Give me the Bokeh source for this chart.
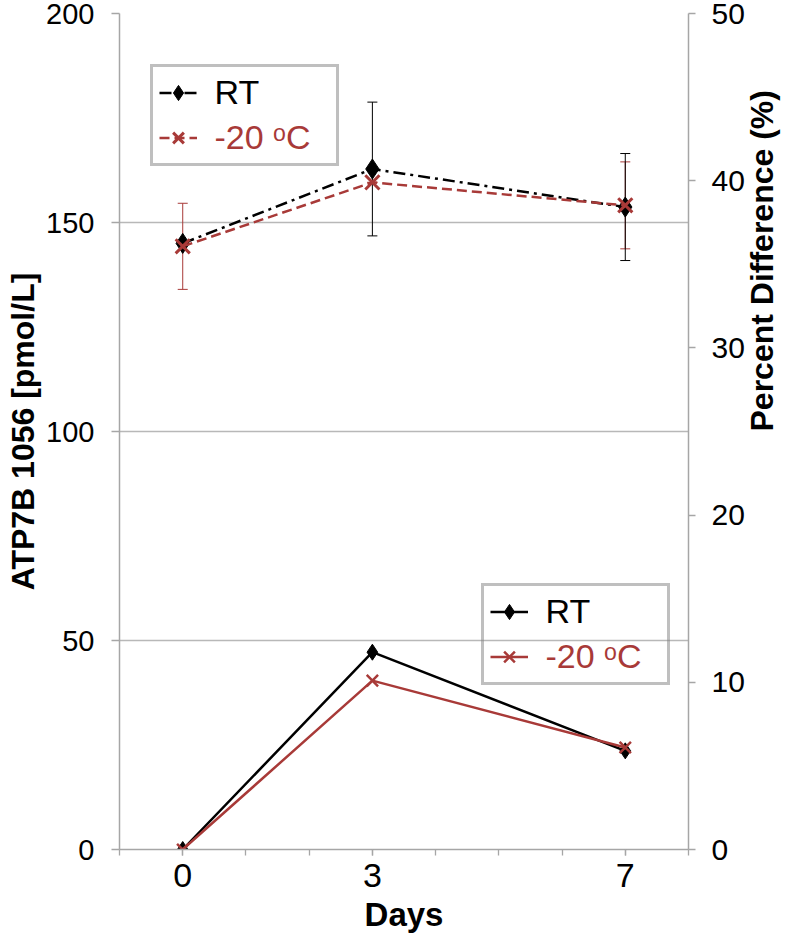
import math
from bokeh.plotting import figure
from bokeh.models import (ColumnDataSource, Range1d, LinearAxis, FixedTicker, Whisker,
                          TeeHead, Legend, LegendItem, Label)
from bokeh.embed import file_html
from bokeh.resources import INLINE

# ---------------- data ----------------
days = [0, 3, 7]
day_ticks = [-1, 0, 1, 2, 3, 4, 5, 6, 7, 8]
rt_conc = [145.0, 162.8, 153.7]
rt_err = [0.0, 16.0, 12.8]
m20_conc = [144.3, 159.6, 154.1]
m20_err = [10.3, 0.0, 10.4]
rt_pct = [0.0, 11.8, 5.9]
m20_pct = [0.0, 10.1, 6.1]
conc_ticks = [0, 50, 100, 150, 200]
pct_ticks = [0, 10, 20, 30, 40, 50]
series_labels = ["RT", "-20 \u1d52C"]

RED = "#A83A38"
AXIS_GRAY = "#A6A6A6"
GRID_GRAY = "#B8B8B8"
FONT = "Liberation Sans"

src = ColumnDataSource(dict(
    x=days,
    rt=rt_conc,
    rt_lo=[c - e for c, e in zip(rt_conc, rt_err)],
    rt_hi=[c + e for c, e in zip(rt_conc, rt_err)],
    m20=m20_conc,
    m20_lo=[c - e for c, e in zip(m20_conc, m20_err)],
    m20_hi=[c + e for c, e in zip(m20_conc, m20_err)],
    rt_pct=rt_pct,
    m20_pct=m20_pct,
))

p = figure(width=800, height=943, x_range=Range1d(-1, 8), y_range=Range1d(0, 200),
           output_backend="svg", toolbar_location=None,
           min_border_left=119, min_border_right=111, min_border_top=13, min_border_bottom=94)
p.extra_y_ranges = {"pct": Range1d(0, 50)}
p.outline_line_color = None
p.background_fill_color = "white"
p.border_fill_color = "white"

p.xgrid.visible = False
p.ygrid.ticker = FixedTicker(ticks=conc_ticks)
p.ygrid.grid_line_color = GRID_GRAY
p.ygrid.grid_line_width = 1.3

# x axis
xa = p.xaxis[0]
xa.ticker = FixedTicker(ticks=days, minor_ticks=day_ticks)
xa.axis_line_color = AXIS_GRAY
xa.axis_line_width = 1.5
xa.major_tick_line_color = AXIS_GRAY
xa.minor_tick_line_color = AXIS_GRAY
xa.major_tick_line_width = 1.3
xa.minor_tick_line_width = 1.3
xa.major_tick_in = 0
xa.major_tick_out = 6
xa.minor_tick_in = 0
xa.minor_tick_out = 6
xa.major_label_text_font = FONT
xa.major_label_text_font_size = "34px"
xa.major_label_text_color = "black"
xa.major_label_standoff = 8
xa.axis_label = "Days"
xa.axis_label_text_font = FONT
xa.axis_label_text_font_style = "bold"
xa.axis_label_text_font_size = "33px"
xa.axis_label_text_color = "black"
xa.axis_label_standoff = 6

# left axis
ya = p.yaxis[0]
ya.ticker = FixedTicker(ticks=conc_ticks)
ya.axis_line_color = AXIS_GRAY
ya.axis_line_width = 1.5
ya.major_tick_line_color = AXIS_GRAY
ya.major_tick_line_width = 1.3
ya.minor_tick_line_color = None
ya.major_tick_in = 0
ya.major_tick_out = 8
ya.major_label_text_font = FONT
ya.major_label_text_font_size = "29px"
ya.major_label_text_color = "black"
ya.major_label_standoff = 17
ya.axis_label = "ATP7B 1056 [pmol/L]"
ya.axis_label_text_font = FONT
ya.axis_label_text_font_style = "bold"
ya.axis_label_text_font_size = "32px"
ya.axis_label_text_color = "black"
ya.axis_label_standoff = 2

# right axis
ra = LinearAxis(y_range_name="pct", ticker=FixedTicker(ticks=pct_ticks))
ra.axis_line_color = AXIS_GRAY
ra.axis_line_width = 1.5
ra.major_tick_line_color = AXIS_GRAY
ra.major_tick_line_width = 1.3
ra.minor_tick_line_color = None
ra.major_tick_in = 0
ra.major_tick_out = 7
ra.major_label_text_font = FONT
ra.major_label_text_font_size = "30px"
ra.major_label_text_color = "black"
ra.major_label_standoff = 16
ra.axis_label = "Percent  Difference (%)"
ra.axis_label_text_font = FONT
ra.axis_label_text_font_style = "bold"
ra.axis_label_text_font_size = "32px"
ra.axis_label_text_color = "black"
ra.axis_label_standoff = 14
ra.axis_label_orientation = math.pi / 2
p.add_layout(ra, "right")

# error bars
p.add_layout(Whisker(source=src, base="x", lower="m20_lo", upper="m20_hi",
                     line_color=RED, line_width=1,
                     upper_head=TeeHead(size=10, line_color=RED, line_width=1),
                     lower_head=TeeHead(size=10, line_color=RED, line_width=1)))
p.add_layout(Whisker(source=src, base="x", lower="rt_lo", upper="rt_hi",
                     line_color="black", line_width=1,
                     upper_head=TeeHead(size=10, line_color="black", line_width=1),
                     lower_head=TeeHead(size=10, line_color="black", line_width=1)))

# concentration series (left axis)
l_rt = p.line("x", "rt", source=src, line_color="black", line_width=2.5, line_dash="12 5 3 5")
s_rt = p.scatter("x", "rt", source=src, marker="diamond", size=20, color="black")
l_m20 = p.line("x", "m20", source=src, line_color=RED, line_width=2.5, line_dash="10 5")
s_m20 = p.scatter("x", "m20", source=src, marker="x", size=20, line_color=RED, line_width=3)

# percent difference series (right axis)
l_rtp = p.line("x", "rt_pct", source=src, y_range_name="pct", line_color="black", line_width=2.5)
s_rtp = p.scatter("x", "rt_pct", source=src, y_range_name="pct", marker="diamond", size=16, color="black")
l_m20p = p.line("x", "m20_pct", source=src, y_range_name="pct", line_color=RED, line_width=2.5)
s_m20p = p.scatter("x", "m20_pct", source=src, y_range_name="pct", marker="x", size=16,
                   line_color=RED, line_width=2.5)

# legends (glyphs + frame); texts drawn as coloured labels on top
PAD, GW, RH, SPACING, STANDOFF, LW = 6, 38, 39, 6, 20, 113


def make_legend(items, loc):
    leg = Legend(items=items, location=loc, orientation="vertical",
                 border_line_color="#7F7F7F", border_line_width=3,
                 background_fill_alpha=0.0,
                 padding=PAD, spacing=SPACING, margin=0,
                 glyph_width=GW, glyph_height=RH, label_height=RH, label_width=LW,
                 label_standoff=STANDOFF, label_text_font=FONT, label_text_font_size="30px",
                 label_text_alpha=0.0)
    p.add_layout(leg)
    box_h = 2 * PAD + 2 * RH + SPACING
    tx = loc[0] + PAD + GW + STANDOFF
    y1 = loc[1] + box_h - PAD - RH / 2 + 4
    y2 = y1 - RH - SPACING
    for text, color, yy in [(items[0].label["value"], "black", y1),
                            (items[1].label["value"], RED, y2)]:
        p.add_layout(Label(x=tx, y=yy, x_units="screen", y_units="screen", text=text,
                           text_color=color, text_font=FONT, text_font_size="34px",
                           text_baseline="middle", text_align="left", level="overlay"))


make_legend([LegendItem(label=series_labels[0], renderers=[l_rt, s_rt]),
             LegendItem(label=series_labels[1], renderers=[l_m20, s_m20])], (31, 683))
make_legend([LegendItem(label=series_labels[0], renderers=[l_rtp, s_rtp]),
             LegendItem(label=series_labels[1], renderers=[l_m20p, s_m20p])], (362, 164))

open("out.html", "w").write(file_html(p, INLINE))
